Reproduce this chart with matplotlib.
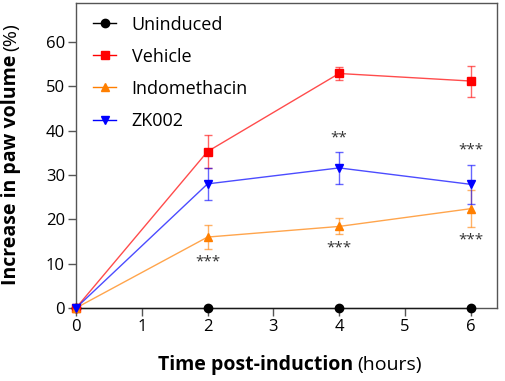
import matplotlib
matplotlib.use("Agg")
import matplotlib.pyplot as plt

plt.rcParams['font.family'] = ['Open Sans', 'DejaVu Sans']

# data
hours = [0, 2, 4, 6]
uninduced = [0, 0, 0, 0]
vehicle = [0, 35.3, 52.9, 51.2]
vehicle_err = [0, 3.7, 1.5, 3.5]
indomethacin = [0, 16.0, 18.4, 22.4]
indomethacin_err = [0, 2.7, 1.8, 4.2]
zk002 = [0, 28.0, 31.6, 27.9]
zk002_err = [0, 3.6, 3.6, 4.4]

# significance marks: (x, y, text)
sig_marks = [(2, 10.4, '***'), (4, 13.6, '***'), (6, 15.4, '***'),
             (4, 38.4, '**'), (6, 35.6, '***')]

fig = plt.figure(figsize=(5.05, 3.81), dpi=100)
ax = fig.add_axes([0.1505, 0.1916, 0.8335, 0.8005])

series = [
    ('Uninduced', uninduced, None, '#000000', 'o'),
    ('Vehicle', vehicle, vehicle_err, '#ff0000', 's'),
    ('Indomethacin', indomethacin, indomethacin_err, '#ff7f00', '^'),
    ('ZK002', zk002, zk002_err, '#0000ff', 'v'),
]
handles = []
for name, vals, err, col, mk in series:
    if err is not None:
        ax.errorbar(hours, vals, yerr=err, fmt='none', ecolor=col, alpha=0.6,
                    elinewidth=1, capsize=3, capthick=1, clip_on=False)
    ax.plot(hours, vals, color=col, lw=1, alpha=0.7, clip_on=False, zorder=3)
    ax.plot(hours, vals, ls='none', marker=mk, ms=6, color=col, clip_on=False, zorder=4)
    h, = ax.plot([], [], color=col, lw=1, marker=mk, ms=6, label=name)
    handles.append(h)

for x, y, s in sig_marks:
    ax.text(x, y, s, ha='center', va='center', fontsize=11, color='#333333')

ax.set_xlim(0, 6.4)
ax.set_ylim(0, 68.8)
ax.set_xticks(range(0, 7))
ax.set_yticks(range(0, 70, 10))
ax.tick_params(labelsize=12, length=6, width=1, pad=2, color='#555555', direction='out')
for sp in ax.spines.values():
    sp.set_color('#555555')
    sp.set_linewidth(1)

ax.legend(handles=handles, loc='upper left', frameon=False, fontsize=13,
          handlelength=1.3, handletextpad=0.85, labelspacing=0.78,
          borderaxespad=0.3, bbox_to_anchor=(0.01, 1.0))

# axis labels with mixed weights
fig.canvas.draw()
r = fig.canvas.get_renderer()
t1 = fig.text(0.313, 0.029, 'Time post-induction', fontsize=14, fontweight='bold',
              ha='left', va='baseline')
bb = t1.get_window_extent(r)
fig.text((bb.x1 + 4) / fig.bbox.width, 0.029, '(hours)', fontsize=14, va='baseline')

t2 = fig.text(0.022, 0.252, 'Increase in paw volume', fontsize=14, fontweight='bold',
              rotation=90, ha='center', va='bottom')
bb = t2.get_window_extent(r)
fig.text(0.022, (bb.y1 + 4) / fig.bbox.height, '(%)', fontsize=14, rotation=90,
         ha='center', va='bottom')

fig.savefig('out.png', dpi=100)
